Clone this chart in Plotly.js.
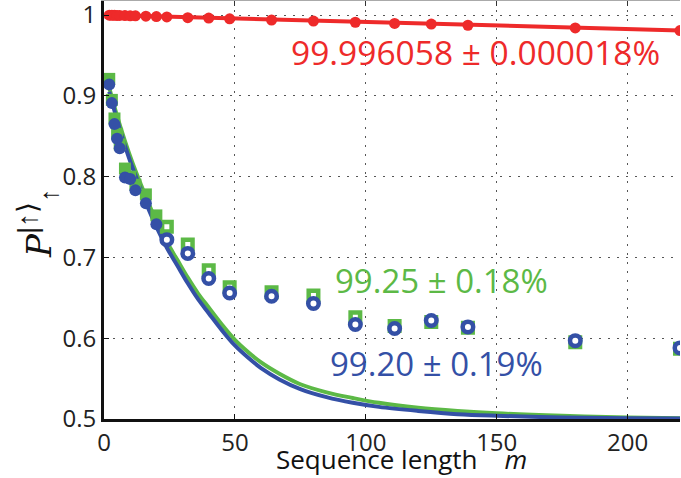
<!DOCTYPE html>
<html>
<head>
<meta charset="utf-8">
<script src="https://cdn.plot.ly/plotly-3.0.1.min.js"></script>
<style>html,body{margin:0;padding:0;background:#fff;}#chart{width:681px;height:478px;}</style>
</head>
<body>
<div id="chart"></div>
<script>
// sequence lengths m
const seqLength = [2,3,4,5,6,8,10,12,16,20,24,32,40,48,64,80,96,111,125,139,180,220];
// red series (near 1)
const redValues = [0.9998,0.9997,0.9997,0.9996,0.9995,0.9993,0.9991,0.9990,0.9986,0.9981,0.9977,0.9967,0.9963,0.9953,0.9939,0.9925,0.9911,0.9897,0.9888,0.9874,0.9841,0.9808];
// green squares
const greenValues = [0.921,0.895,0.872,0.853,0.840,0.810,0.800,0.790,0.778,0.752,0.738,0.716,0.684,0.663,0.657,0.653,0.626,0.615,0.620,0.613,0.595,0.587];
// blue circles
const blueValues = [0.914,0.891,0.865,0.847,0.835,0.799,0.797,0.783,0.767,0.741,0.722,0.705,0.674,0.656,0.652,0.643,0.617,0.612,0.622,0.614,0.597,0.588];
// fitted curves
const fitX = [2,5,8,11,14,17,20,24,28,32,36,40,45,50,55,60,67,75,85,95,105,120,135,150,175,200,220];
const blueFit = [0.905,0.870,0.838,0.810,0.785,0.760,0.738,0.712,0.690,0.668,0.648,0.631,0.610,0.591,0.576,0.563,0.549,0.537,0.527,0.520,0.515,0.510,0.506,0.504,0.502,0.501,0.5005];
const greenFit = [0.910,0.875,0.844,0.816,0.791,0.767,0.745,0.719,0.697,0.675,0.655,0.638,0.617,0.598,0.583,0.570,0.556,0.543,0.533,0.526,0.520,0.514,0.510,0.507,0.504,0.502,0.501];
const redFitX = [1,220];
const redFit = [1.0,0.981];
// tick labels
const xTickVals = [0,50,100,150,200];
const xTickText = ['0','50','100','150','200'];
const yTickVals = [0.5,0.6,0.7,0.8,0.9,1.0];
const yTickText = ['0.5','0.6','0.7','0.8','0.9','1'];
const labels = {red:'99.996058 ± 0.000018%', green:'99.25 ± 0.18%', blue:'99.20 ± 0.19%'};
const xTitle = 'Sequence length&nbsp;&nbsp;&nbsp;&nbsp;<i>m</i>';
const yTitle = '<span style="font-family:DejaVu Serif"><i>P</i></span><sup><span style="font-size:28px">|↑⟩</span></sup><sub><span style="font-size:26px">↑</span></sub>';

const RED='#ee2a2a', GREEN='#5cb946', BLUE='#3450a6';
const openCut = 24;
const idxFilled = seqLength.map((m,i)=>i).filter(i=>seqLength[i]<openCut);
const idxOpen = seqLength.map((m,i)=>i).filter(i=>seqLength[i]>=openCut);
const pick=(arr,idx)=>idx.map(i=>arr[i]);

const traces = [
  {x:redFitX,y:redFit,mode:'lines',line:{color:RED,width:4},hoverinfo:'skip'},
  {x:seqLength,y:redValues,mode:'markers',marker:{color:RED,size:11}},
  {x:fitX,y:greenFit,mode:'lines',line:{color:GREEN,width:4,shape:'spline',smoothing:1}},
  {x:fitX,y:blueFit,mode:'lines',line:{color:BLUE,width:4,shape:'spline',smoothing:1}},
  {x:pick(seqLength,idxFilled),y:pick(greenValues,idxFilled),mode:'markers',marker:{symbol:'square',color:GREEN,size:12}},
  {x:pick(seqLength,idxOpen),y:pick(greenValues,idxOpen),mode:'markers',marker:{symbol:'square',color:'#fff',size:9.5,line:{color:GREEN,width:4.5}}},
  {x:pick(seqLength,idxFilled),y:pick(blueValues,idxFilled),mode:'markers',marker:{symbol:'circle',color:BLUE,size:12}},
  {x:pick(seqLength,idxOpen),y:pick(blueValues,idxOpen),mode:'markers',marker:{symbol:'circle',color:'#fff',size:10.5,line:{color:BLUE,width:4.5}}},
  {x:[0],y:[0.5],xaxis:'x2',mode:'markers',marker:{opacity:0},hoverinfo:'skip'}
];

const FONT='Open Sans';
const layout = {
  width:681,height:478,
  margin:{l:104,r:1,t:1,b:59},
  showlegend:false,
  paper_bgcolor:'#fff',plot_bgcolor:'#fff',
  font:{family:FONT,color:'#222'},
  xaxis:{range:[0,220],tickvals:xTickVals,ticktext:xTickText,
    showline:true,linecolor:'#111',linewidth:3,
    ticks:'inside',ticklen:5,tickcolor:'#111',tickwidth:1,
    showgrid:true,gridcolor:'#555',griddash:'2px,7px',gridwidth:1,
    zeroline:false,tickfont:{size:24,color:'#222',family:FONT},ticklabeloverflow:'allow'},
  xaxis2:{range:[0,220],overlaying:'x',side:'top',tickvals:xTickVals,showticklabels:false,
    showline:true,linecolor:'#aaa',linewidth:1,ticks:'inside',ticklen:5,tickcolor:'#333',
    showgrid:false,zeroline:false},
  yaxis:{range:[0.5,1.0174],tickvals:yTickVals,ticktext:yTickText,
    showline:true,linecolor:'#111',linewidth:3,
    ticks:'inside',ticklen:5,tickcolor:'#111',tickwidth:1,
    showgrid:true,gridcolor:'#555',griddash:'2px,7px',gridwidth:1,
    zeroline:false,tickfont:{size:24,color:'#222',family:FONT},ticklabeloverflow:'allow'},
  annotations:[
    {x:141.8,y:0.954,xref:'x',yref:'y',text:labels.red,showarrow:false,font:{size:33.5,color:RED,family:FONT}},
    {x:128.8,y:0.671,xref:'x',yref:'y',text:labels.green,showarrow:false,font:{size:33,color:GREEN,family:FONT}},
    {x:126.9,y:0.569,xref:'x',yref:'y',text:labels.blue,showarrow:false,font:{size:33,color:BLUE,family:FONT}},
    {x:(401-104)/576,y:(419-459)/418,xref:'paper',yref:'paper',xanchor:'center',yanchor:'middle',text:xTitle,showarrow:false,font:{size:26,color:'#111',family:FONT}},
    {x:0,y:0.5,xref:'paper',yref:'paper',xanchor:'center',yanchor:'middle',xshift:-66,yshift:-14,textangle:-90,showarrow:false,
      text:yTitle,font:{size:34,color:'#111',family:'Liberation Sans'}}
  ]
};
Plotly.newPlot('chart',traces,layout,{staticPlot:true});
</script>
</body>
</html>
